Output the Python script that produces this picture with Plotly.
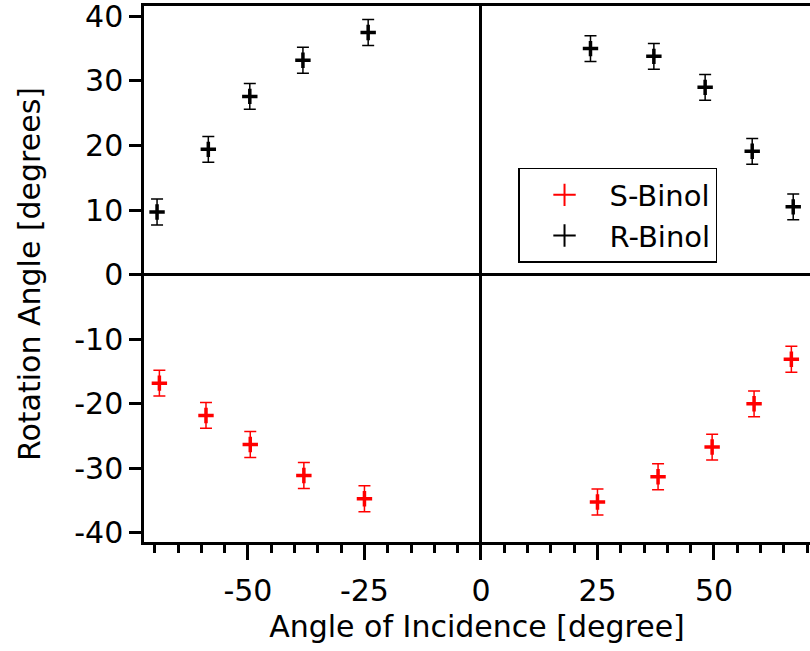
import plotly.graph_objects as go

# Data
r_x = [-69.5, -58.5, -49.6, -38.2, -24.2, 23.5, 37.1, 48.1, 58.2, 67.0]
r_y = [9.7, 19.4, 27.6, 33.2, 37.5, 35.0, 33.8, 29.0, 19.1, 10.5]
r_err = [2.0, 2.0, 2.0, 2.0, 2.0, 2.0, 2.0, 2.0, 2.0, 2.0]

s_x = [-69.0, -59.0, -49.5, -38.0, -25.0, 25.0, 38.0, 49.6, 58.6, 66.6]
s_y = [-16.8, -21.8, -26.3, -31.1, -34.7, -35.2, -31.3, -26.7, -20.0, -13.1]
s_err = [2.0, 2.0, 2.0, 2.0, 2.0, 2.0, 2.0, 2.0, 2.0, 2.0]

x_tickvals = [-50, -25, 0, 25, 50]
x_ticktext = ["-50", "-25", "0", "25", "50"]
y_tickvals = [-40, -30, -20, -10, 0, 10, 20, 30, 40]
y_ticktext = ["-40", "-30", "-20", "-10", "0", "10", "20", "30", "40"]

FONT = "DejaVu Sans"

fig = go.Figure()

for xs, ys, es, col in [(s_x, s_y, s_err, "#ff0000"), (r_x, r_y, r_err, "#000000")]:
    fig.add_trace(go.Scatter(
        x=xs, y=ys, mode="markers", showlegend=False,
        marker=dict(symbol="cross-thin", size=11, line=dict(width=3.5, color=col), color=col),
        error_y=dict(type="data", array=es, visible=True, color=col, thickness=1.5, width=6),
    ))

# legend entries
for name, col in [("S-Binol", "#ff0000"), ("R-Binol", "#000000")]:
    fig.add_trace(go.Scatter(
        x=[None], y=[None], mode="markers", name=name,
        marker=dict(symbol="cross-thin", size=16, line=dict(width=2, color=col), color=col),
    ))

fig.update_layout(
    width=810, height=651,
    margin=dict(l=144, r=0, t=6, b=109),
    paper_bgcolor="white", plot_bgcolor="white",
    font=dict(family=FONT, size=30, color="black"),
    legend=dict(
        x=0.5616, y=0.6978, xanchor="left", yanchor="top",
        bordercolor="black", borderwidth=1.5, bgcolor="white",
        font=dict(size=29, family=FONT, color="black"),
        itemwidth=80, tracegroupgap=0,
    ),
    xaxis=dict(
        range=[-72.3, 70.6],
        tickvals=x_tickvals, ticktext=x_ticktext,
        ticks="outside", ticklen=15, tickwidth=2.5, tickcolor="black",
        minor=dict(dtick=5, tick0=0, ticks="outside", ticklen=8, tickwidth=2.5, tickcolor="black"),
        showline=True, linewidth=2.5, linecolor="black", mirror=True,
        showgrid=False,
        zeroline=True, zerolinecolor="black", zerolinewidth=2.5,
        ticklabelstandoff=5,
        tickfont=dict(size=30, family=FONT, color="black"),
        title=dict(text="Angle of Incidence [degree]", font=dict(size=30, family=FONT, color="black"), standoff=10),
    ),
    yaxis=dict(
        range=[-41.4, 41.6],
        tickvals=y_tickvals, ticktext=y_ticktext,
        ticks="outside", ticklen=12, tickwidth=2.5, tickcolor="black",
        showline=True, linewidth=2.5, linecolor="black", mirror=False,
        showgrid=False,
        zeroline=True, zerolinecolor="black", zerolinewidth=2.5,
        ticklabeloverflow="allow",
        tickfont=dict(size=30, family=FONT, color="black"),
        title=dict(text="Rotation Angle [degrees]", font=dict(size=30, family=FONT, color="black"), standoff=25),
    ),
)

fig.write_html("out.html")
